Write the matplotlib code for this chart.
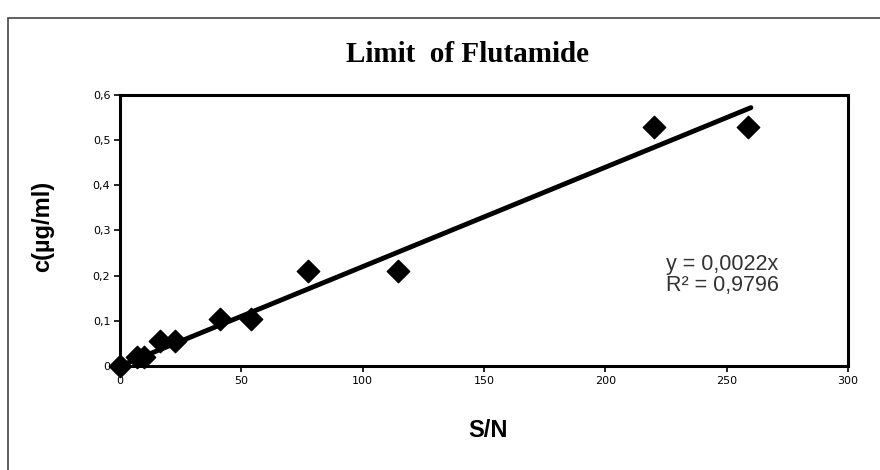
import matplotlib
matplotlib.use("Agg")
import matplotlib.pyplot as plt
from matplotlib.ticker import FuncFormatter
from matplotlib.patches import Rectangle
import numpy as np

# Data (S/N vs concentration)
sn = [0, 7, 10, 16.5, 22.5, 41, 54, 77.5, 114.5, 220, 259]
conc = [0, 0.02, 0.02, 0.055, 0.055, 0.105, 0.105, 0.21, 0.21, 0.53, 0.53]
slope = 0.0022
r2 = 0.9796

fig = plt.figure(figsize=(8.8, 4.7), dpi=100)
ax = fig.add_axes([0.1364, 0.2213, 0.8272, 0.5766])

# trendline through origin
xl = np.array([0, 260])
ax.plot(xl, slope * xl, color="black", lw=3.5, solid_capstyle="round", zorder=2)
ax.scatter(sn, conc, marker="D", s=130, color="black", zorder=3, clip_on=False)

ax.set_xlim(0, 300)
ax.set_ylim(0, 0.6)
ax.set_xticks(range(0, 301, 50))
ax.set_yticks(np.arange(0, 0.61, 0.1))
comma = FuncFormatter(lambda v, p: ("%g" % round(v, 2)).replace(".", ","))
ax.xaxis.set_major_formatter(comma)
ax.yaxis.set_major_formatter(comma)
ax.tick_params(direction="out", length=4, width=1.2, labelsize=8, pad=3)
for s in ax.spines.values():
    s.set_linewidth(2.2)

ax.text(0.75, 0.336, "y = 0,0022x\nR² = 0,9796", transform=ax.transAxes,
        fontsize=15.5, family="Liberation Sans", color="#333333",
        va="center", ha="left", linespacing=1.05)

fig.text(0.531, 0.883, "Limit  of Flutamide", ha="center", va="center",
         family="Liberation Serif", fontweight="bold", fontsize=21)
fig.text(0.555, 0.085, "S/N", ha="center", va="center",
         family="Liberation Sans", fontweight="bold", fontsize=17)
fig.text(0.048, 0.519, "c(µg/ml)", ha="center", va="center", rotation=90,
         family="Liberation Sans", fontweight="bold", fontsize=17)

# outer chart-area border
fig.patches.append(Rectangle((0.009, -0.01), 1.0, 0.972, transform=fig.transFigure,
                             fill=False, edgecolor="#444444", lw=1.2))

fig.savefig("out.png", dpi=100)
